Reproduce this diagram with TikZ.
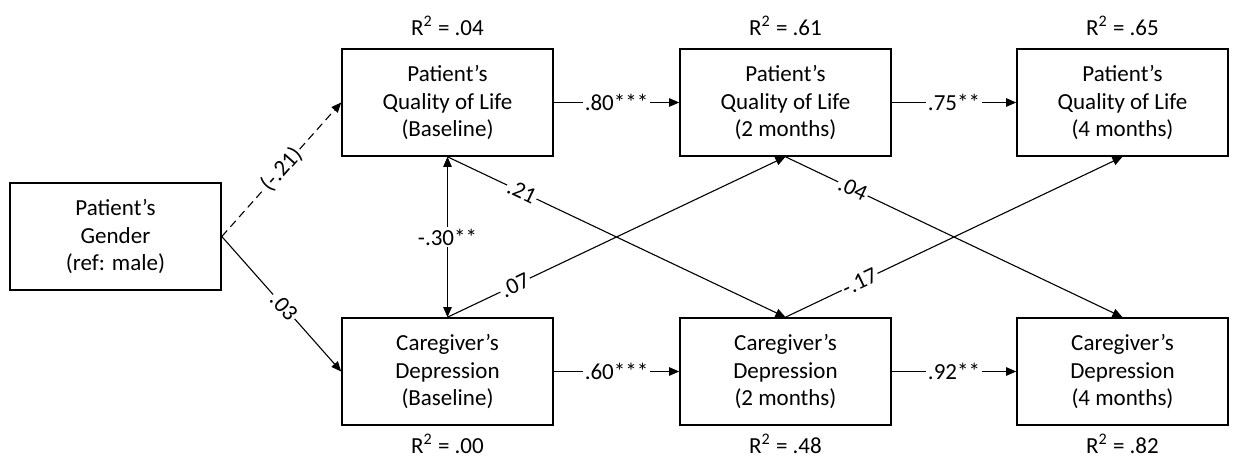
\documentclass[tikz,border=0pt]{standalone}
\usepackage{fontspec}
\setmainfont{Carlito}
\usetikzlibrary{arrows.meta}

\begin{document}
\begin{tikzpicture}[x=0.5pt,y=0.5pt,
  box/.style={draw,line width=0.8pt,minimum width=105.5pt,minimum height=53.5pt,
    inner sep=0pt,align=center,font=\fontsize{11.5}{13.8}\selectfont},
  path/.style={line width=0.55pt,-{Triangle[length=5pt,width=4.2pt]}},
  coef/.style={fill=white,inner sep=0.8pt,font=\fontsize{11.5}{13.8}\selectfont},
  rsq/.style={font=\fontsize{11.5}{13.8}\selectfont}]
\useasboundingbox (0,0) rectangle (1233,466);

\node[box] (G) at (115.5,229.5) {Patient’s\\Gender\\(ref: male)};

\node[box] (Q0) at (447.5,363.5) {Patient’s\\Quality of Life\\(Baseline)};
\node[box] (Q2) at (785.5,363.5) {Patient’s\\Quality of Life\\(2 months)};
\node[box] (Q4) at (1122.5,363.5) {Patient’s\\Quality of Life\\(4 months)};

\node[box] (D0) at (447.5,94.5) {Caregiver’s\\Depression\\(Baseline)};
\node[box] (D2) at (785.5,94.5) {Caregiver’s\\Depression\\(2 months)};
\node[box] (D4) at (1122.5,94.5) {Caregiver’s\\Depression\\(4 months)};

\node[rsq] (rQ0) at (447.5,440) {R\textsuperscript{2} = .04};
\node[rsq] (rQ2) at (785.5,440) {R\textsuperscript{2} = .61};
\node[rsq] (rQ4) at (1122.5,440) {R\textsuperscript{2} = .65};
\node[rsq] (rD0) at (447.5,22) {R\textsuperscript{2} = .00};
\node[rsq] (rD2) at (785.5,22) {R\textsuperscript{2} = .48};
\node[rsq] (rD4) at (1122.5,22) {R\textsuperscript{2} = .82};

\draw[path,dash pattern=on 4pt off 2.5pt] (G.east) -- node[coef,sloped,pos=0.5] {(-.21)} (Q0.west); % gender
\draw[path] (G.east) -- node[coef,sloped,pos=0.52] {.03} (D0.west);

\draw[path] (Q0.east) -- node[coef] {.80***} (Q2.west); % stability
\draw[path] (Q2.east) -- node[coef] {.75**} (Q4.west);
\draw[path] (D0.east) -- node[coef] {.60***} (D2.west);
\draw[path] (D2.east) -- node[coef] {.92**} (D4.west);

\draw[path,{Triangle[length=5pt,width=4.2pt]}-{Triangle[length=5pt,width=4.2pt]}] (Q0.south) -- node[coef] {-.30**} (D0.north);

\draw[path] (Q0.south) -- node[coef,sloped,pos=0.22] {.21} (D2.north); % cross
\draw[path] (D0.north) -- node[coef,sloped,pos=0.2] {.07} (Q2.south);
\draw[path] (Q2.south) -- node[coef,sloped,pos=0.2] {.04} (D4.north);
\draw[path] (D2.north) -- node[coef,sloped,pos=0.22] {-.17} (Q4.south);
\end{tikzpicture}
\end{document}
